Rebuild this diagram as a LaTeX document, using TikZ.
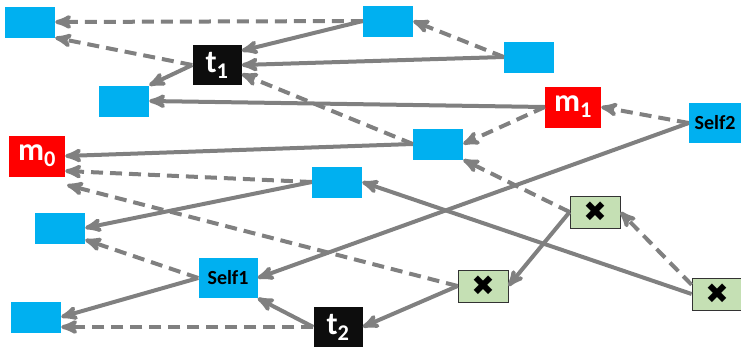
\documentclass[tikz,border=0pt]{standalone}
\usepackage{fontspec}
\setmainfont{Carlito}
\newfontfamily\symfont{DejaVu Sans}
\usetikzlibrary{arrows}
\definecolor{boxblue}{HTML}{00B0F0}
\definecolor{boxred}{HTML}{FF0000}
\definecolor{boxblack}{HTML}{0D0D0D}
\definecolor{boxgreen}{HTML}{C5E0B4}
\definecolor{linegray}{HTML}{808080}

\begin{document}
\begin{tikzpicture}[x=1pt,y=-1pt,>=stealth',
  plain/.style={fill=boxblue,minimum width=50pt,minimum height=31pt,inner sep=0pt},
  self/.style={fill=boxblue,minimum height=40pt,inner sep=0pt,font=\fontsize{20}{24}\selectfont\bfseries},
  msg/.style={fill=boxred,text=white,minimum width=56pt,minimum height=41pt,inner sep=0pt,font=\fontsize{32}{32}\selectfont\bfseries},
  tick/.style={fill=boxblack,text=white,minimum width=49pt,minimum height=40pt,inner sep=0pt,font=\fontsize{32}{32}\selectfont\bfseries},
  gone/.style={fill=boxgreen,draw=black!80,line width=0.8pt,minimum width=50pt,minimum height=32pt,inner sep=0pt,font=\symfont\fontsize{28}{28}\selectfont},
  slink/.style={->,draw=linegray,line width=4pt},
  dlink/.style={slink,dash pattern=on 12pt off 7pt}]
\useasboundingbox (0,0) rectangle (741,351);

\node[plain] (A) at (30,22) {};
\node[plain] (B) at (388,21) {};
\node[tick] (t1) at (217,65) {t\textsubscript{1}};
\node[plain] (D) at (529,57) {};
\node[plain] (C) at (124,101) {};
\node[msg] (m1) at (573,107) {m\textsubscript{1}};
\node[self,minimum width=52pt] (s2) at (715,123) {Self2};
\node[plain] (E) at (438,144) {};
\node[msg] (m0) at (37,156) {m\textsubscript{0}};
\node[plain] (F) at (337,182) {};
\node[plain] (G) at (60,228) {};
\node[self,minimum width=59pt] (s1) at (228,278) {Self1};
\node[plain] (H) at (36,317) {};
\node[tick] (t2) at (338,327) {t\textsubscript{2}};
\node[gone] (x1) at (595,212) {✖};
\node[gone] (x2) at (483,286) {✖};
\node[gone] (x3) at (717,294) {✖};
\coordinate (m0low) at (67,185);

\path (B.west) edge[dlink] (A.east)
               edge[slink] (t1.30)
      (D.west) edge[slink] (t1.east)
               edge[dlink] (B.east)
      (t1.west) edge[dlink] (A.south east)
                edge[slink] (C.north east)
      (m1.west) edge[slink] (C.east)
                edge[dlink] (E.east)
      (E.west) edge[dlink] (t1.-20)
               edge[slink] (m0.east)
      (s2.west) edge[dlink] (m1.east)
                edge[slink] (s1.east)
      (F.west) edge[dlink] (m0.-28)
               edge[slink] (G.east)
      (x1.west) edge[dlink] (E.south east)
                edge[slink] (x2.east)
      (x2.west) edge[dlink] (m0low)
                edge[slink] (t2.east)
      (x3.west) edge[slink] (F.east)
      (x3.160) edge[dlink] (x1.east)
      (s1.west) edge[dlink] (G.-25)
                edge[slink] (H.east)
      (t2.west) edge[slink] (s1.south east)
                edge[dlink] (t2.west -| H.east);

\end{tikzpicture}
\end{document}
